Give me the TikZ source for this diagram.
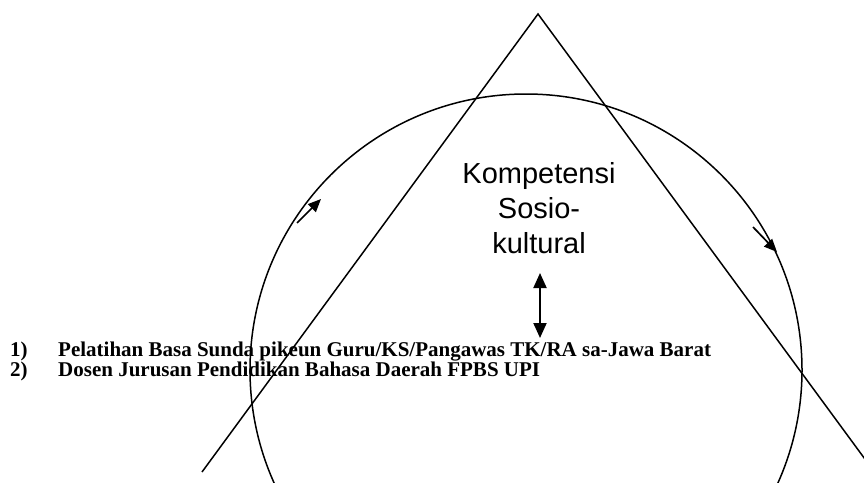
\documentclass[tikz,border=0pt]{standalone}
\usepackage{fontspec}
\setmainfont{Liberation Serif}
\newfontfamily\arialfont{Liberation Sans}
\usetikzlibrary{arrows.meta,positioning}
\tikzstyle{garis} = [line width=1.5pt]
\tikzstyle{panah} = [line width=1.7pt, -{Triangle[length=13pt,width=11pt]}]
\tikzstyle{panahdua} = [line width=2pt, {Triangle[length=15pt,width=13pt]}-{Triangle[length=15pt,width=13pt]}]

\begin{document}
\begin{tikzpicture}[x=1pt,y=-1pt]
    \useasboundingbox (0,0) rectangle (864,482);
    \clip (0,0) rectangle (864,482);
    % Titik segitiga
    \coordinate (apex) at (538,14);
    \coordinate (kakikiri) at (202,472);
    \coordinate (kakikanan) at (895,500);
    % Bunderan
    \node (bunder) [circle, draw, garis, minimum size=552pt, inner sep=0pt] at (526,370) {};
    % Teks
    \node (kompetensi) [align=center, font=\arialfont\fontsize{29}{35}\selectfont] at (539,208) {Kompetensi\\Sosio-\\kultural};
    \node (daftar) [anchor=north west, inner sep=0pt, align=left, font=\bfseries\fontsize{21}{19}\selectfont] at (10,341.5)
        {\makebox[48pt][l]{1)}Pelatihan Basa Sunda pikeun Guru/KS/Pangawas TK/RA sa-Jawa Barat\\
         \makebox[48pt][l]{2)}Dosen Jurusan Pendidikan Bahasa Daerah FPBS UPI};
    % Panah
    \coordinate (kiriA) at (297,223);
    \coordinate (kiriB) at (321,199);
    \coordinate (kananA) at (753,227);
    \coordinate (kananB) at (777,252);
    \coordinate (luhur) at (540,273);
    \coordinate (handap) at (540,338);

    % Garis
    \draw [garis] (kakikiri) -- (apex) -- (kakikanan);
    \draw [panah] (kiriA) -- (kiriB);
    \draw [panah] (kananA) -- (kananB);
    \draw [panahdua] (luhur) -- (handap);
\end{tikzpicture}
\end{document}
